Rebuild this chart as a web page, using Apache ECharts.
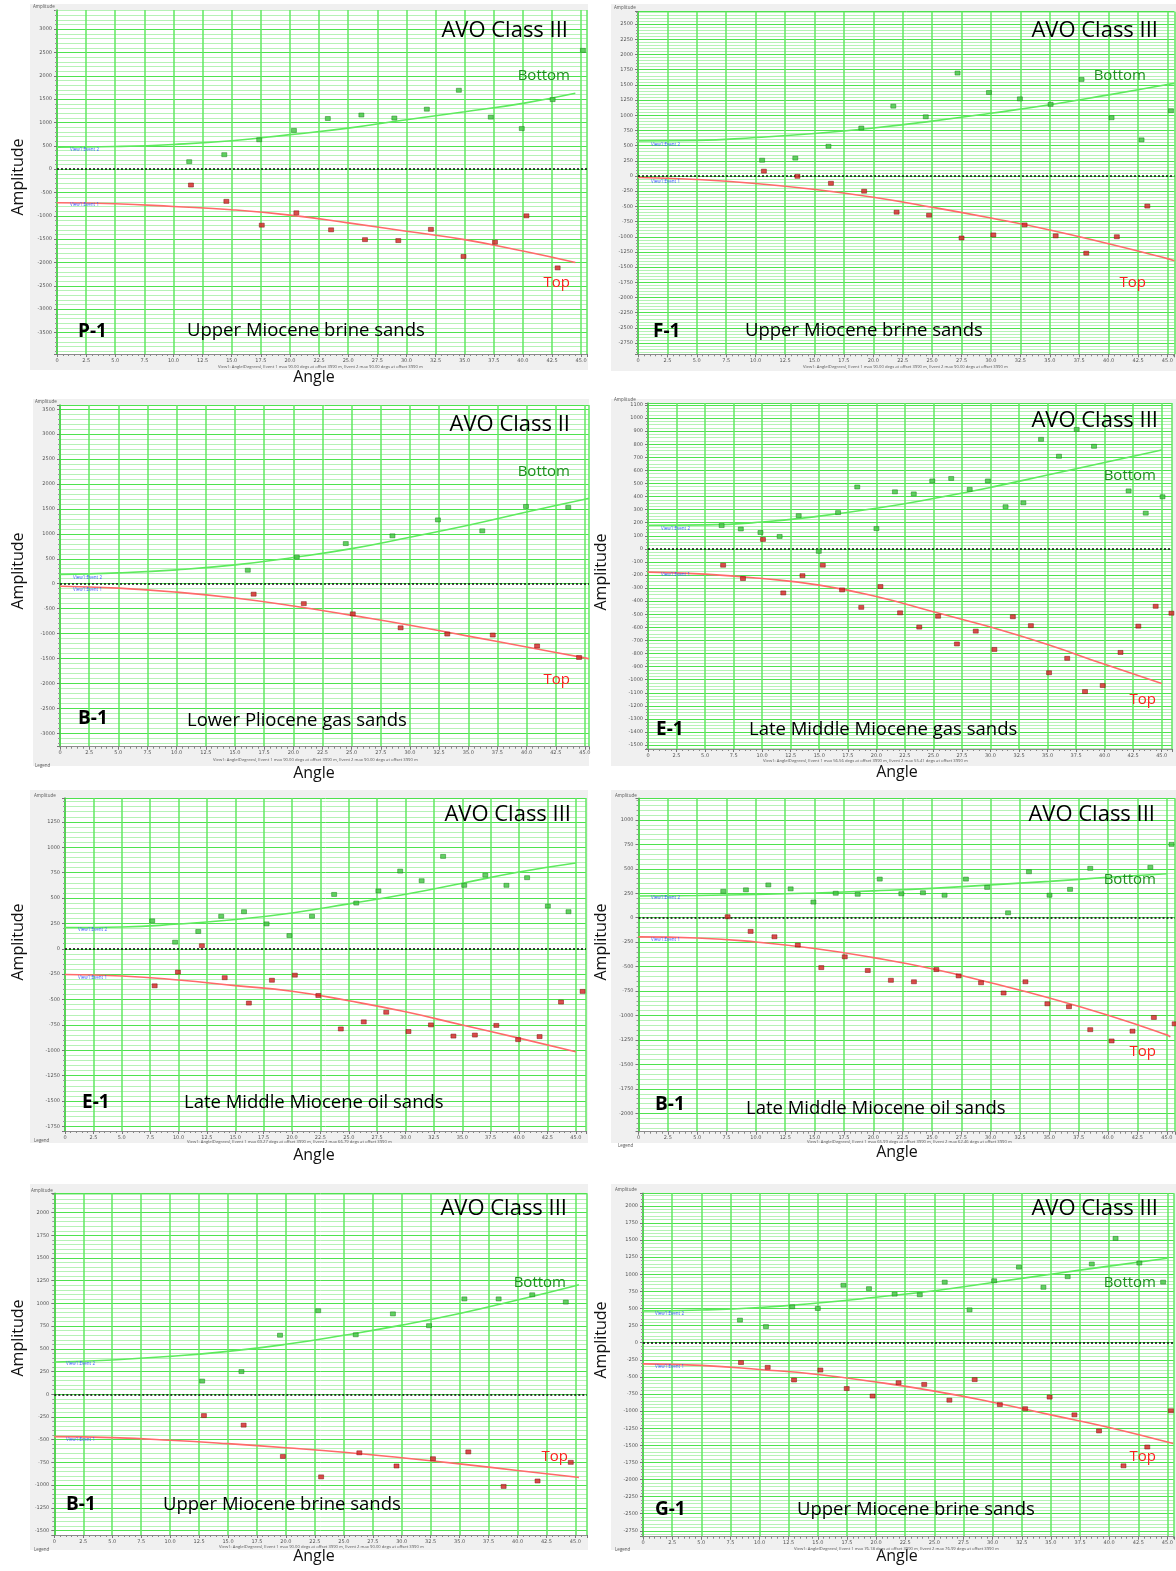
<!DOCTYPE html>
<html><head><meta charset="utf-8">
<script src="https://cdn.jsdelivr.net/npm/echarts@6/dist/echarts.min.js"></script>
<style>html,body{margin:0;padding:0;background:#fff}#c{width:1176px;height:1571px}</style>
</head><body><div id="c"></div>
<script>
// ---------- DATA (angle in degrees, amplitude) ----------
// P-1 Upper Miocene brine sands
const p1Bottom = [[11.35,160],[14.36,310],[17.36,630],[20.34,830],[23.25,1085],[26.13,1160],[28.96,1095],[31.75,1285],[34.5,1690],[37.24,1115],[39.9,870],[42.55,1490],[45.15,2545]];
const p1Top = [[11.5,-340],[14.54,-690],[17.58,-1200],[20.55,-935],[23.53,-1300],[26.44,-1510],[29.3,-1530],[32.1,-1290],[34.9,-1870],[37.6,-1565],[40.3,-1000],[42.98,-2115]];
const p1BottomFit = [[0,470],[5,485],[10,530],[15,610],[20,740],[25,880],[30,1060],[35,1230],[40,1410],[44.5,1625]];
const p1TopFit = [[0,-720],[5,-740],[10,-800],[15,-870],[20,-985],[25,-1150],[30,-1330],[35,-1510],[40,-1755],[44.5,-2000]];
// F-1 Upper Miocene brine sands
const p2Bottom = [[10.55,260],[13.37,295],[16.19,490],[18.98,790],[21.7,1150],[24.46,975],[27.16,1695],[29.83,1375],[32.46,1270],[35.07,1180],[37.7,1590],[40.25,960],[42.8,595],[45.3,1075]];
const p2Top = [[10.7,80],[13.55,-5],[16.4,-120],[19.22,-250],[21.98,-595],[24.74,-645],[27.5,-1020],[30.2,-970],[32.86,-805],[35.5,-985],[38.1,-1270],[40.7,-1000],[43.29,-495]];
const p2BottomFit = [[0,578],[5,586],[10,635],[15,700],[20,790],[25,904],[30,1034],[35,1173],[40,1336],[45,1507],[45.6,1525]];
const p2TopFit = [[0,-24],[5,-57],[10,-122],[15,-220],[20,-350],[25,-513],[30,-692],[35,-888],[40,-1116],[45,-1360],[45.6,-1395]];
// B-1 Lower Pliocene gas sands
const p3Bottom = [[16.1,270],[20.3,535],[24.5,805],[28.5,960],[32.4,1280],[36.2,1060],[39.95,1550],[43.57,1530]];
const p3Top = [[16.6,-210],[20.9,-400],[25.1,-605],[29.2,-885],[33.2,-1010],[37.1,-1030],[40.9,-1250],[44.5,-1480]];
const p3BottomFit = [[0,188],[5,218],[10,278],[15,377],[20,526],[25,704],[30,933],[35,1171],[40,1438],[45,1696],[45.35,1715]];
const p3TopFit = [[0,-50],[5,-89],[10,-169],[15,-288],[20,-446],[25,-635],[30,-833],[35,-1052],[40,-1270],[45,-1488],[45.35,-1505]];
// E-1 Late Middle Miocene gas sands
const p4Bottom = [[6.45,178],[8.13,152],[9.85,125],[11.53,95],[13.2,254],[14.96,-19],[16.65,277],[18.33,473],[20.01,155],[21.63,436],[23.28,420],[24.9,519],[26.56,538],[28.18,455],[29.77,519],[31.32,322],[32.88,352],[34.43,837],[36.0,708],[37.55,913],[39.07,784],[42.1,443],[43.6,273],[45.07,398]];
const p4Top = [[6.58,-125],[8.32,-227],[10.07,72],[11.85,-337],[13.53,-205],[15.31,-125],[17.0,-314],[18.68,-447],[20.36,-288],[22.08,-489],[23.76,-598],[25.41,-515],[27.06,-727],[28.71,-629],[30.34,-769],[31.96,-519],[33.54,-587],[35.13,-947],[36.72,-837],[38.28,-1091],[39.83,-1045],[41.39,-792],[42.95,-591],[44.47,-439],[45.85,-492]];
const p4BottomFit = [[0,180],[5,183],[10,205],[15,250],[20,310],[25,385],[30,470],[35,565],[40,660],[45,755]];
const p4TopFit = [[0,-178],[5,-193],[10,-227],[15,-277],[20,-364],[25,-481],[30,-598],[35,-731],[40,-883],[45,-1030]];
// E-1 Late Middle Miocene oil sands
const p5Bottom = [[7.68,275],[9.7,65],[11.74,170],[13.76,320],[15.77,365],[17.76,245],[19.77,130],[21.76,320],[23.71,535],[25.66,450],[27.61,570],[29.53,765],[31.42,670],[33.31,910],[35.17,625],[37.03,725],[38.89,625],[40.71,700],[42.54,420],[44.36,365]];
const p5Top = [[7.9,-365],[9.95,-230],[12.06,30],[14.07,-285],[16.2,-535],[18.23,-310],[20.25,-260],[22.32,-460],[24.3,-790],[26.32,-720],[28.3,-625],[30.26,-815],[32.24,-750],[34.22,-860],[36.11,-850],[38.0,-755],[39.92,-895],[41.81,-865],[43.7,-525],[45.6,-420]];
const p5BottomFit = [[0,209],[5,214],[10,244],[15,288],[20,353],[25,442],[30,537],[35,646],[40,756],[45,845]];
const p5TopFit = [[0,-254],[5,-268],[10,-308],[15,-363],[20,-418],[25,-512],[30,-621],[35,-751],[40,-880],[45,-1014]];
// B-1 Late Middle Miocene oil sands
const p6Bottom = [[7.22,270],[9.15,285],[11.06,335],[12.96,295],[14.9,160],[16.8,250],[18.67,240],[20.55,395],[22.39,245],[24.23,255],[26.07,230],[27.89,395],[29.7,310],[31.48,50],[33.26,470],[35.01,230],[36.76,290],[38.48,505],[43.6,515],[45.4,750]];
const p6Top = [[7.59,10],[9.55,-140],[11.58,-195],[13.57,-280],[15.57,-510],[17.57,-400],[19.53,-540],[21.5,-640],[23.46,-655],[25.37,-530],[27.27,-595],[29.18,-665],[31.1,-770],[32.96,-655],[34.83,-880],[36.67,-910],[38.48,-1145],[40.3,-1260],[42.08,-1160],[43.9,-1020],[45.67,-1085]];
const p6BottomFit = [[0,222],[5,227],[10,238],[15,253],[20,274],[25,300],[30,336],[35,372],[40,413],[45,449]];
const p6TopFit = [[0,-196],[5,-207],[10,-248],[15,-315],[20,-408],[25,-522],[30,-666],[35,-821],[40,-997],[45,-1198],[45.3,-1220]];
// B-1 Upper Miocene brine sands
const p7Bottom = [[12.77,145],[16.16,250],[19.49,650],[22.79,920],[26.03,655],[29.24,885],[32.36,755],[35.41,1050],[38.37,1050],[41.27,1095],[44.17,1015]];
const p7Top = [[12.92,-235],[16.35,-340],[19.74,-685],[23.04,-910],[26.34,-645],[29.55,-790],[32.7,-710],[35.75,-635],[38.8,-1015],[41.73,-955],[44.6,-750]];
const p7BottomFit = [[0,356],[5,378],[10,417],[15,472],[20,550],[25,650],[30,761],[35,889],[40,1039],[45,1194],[45.3,1205]];
const p7TopFit = [[0,-467],[5,-478],[10,-506],[15,-544],[20,-589],[25,-639],[30,-700],[35,-767],[40,-839],[45,-911],[45.3,-915]];
// G-1 Upper Miocene brine sands
const p8Bottom = [[8.32,330],[10.55,235],[12.8,525],[15.0,500],[17.2,840],[19.39,790],[21.59,710],[23.75,700],[25.89,885],[28.02,480],[30.13,905],[32.26,1105],[34.36,810],[36.44,965],[38.51,1150],[40.55,1525],[42.59,1165],[44.63,885]];
const p8Top = [[8.41,-290],[10.7,-360],[12.96,-545],[15.22,-400],[17.48,-670],[19.7,-780],[21.93,-585],[24.13,-610],[26.29,-840],[28.46,-540],[30.62,-905],[32.79,-965],[34.89,-795],[37.02,-1055],[39.13,-1290],[41.23,-1800],[43.27,-1525],[45.3,-995]];
const p8BottomFit = [[0,465],[5,478],[10,515],[15,580],[20,665],[25,760],[30,880],[35,1000],[40,1120],[45,1235]];
const p8TopFit = [[0,-310],[5,-332],[10,-391],[15,-465],[20,-575],[25,-708],[30,-870],[35,-1055],[40,-1239],[45,-1453],[45.5,-1475]];

const wells = ['P-1','F-1','B-1','E-1','E-1','B-1','B-1','G-1'];
const formations = ['Upper Miocene brine sands','Upper Miocene brine sands','Lower Pliocene gas sands','Late Middle Miocene gas sands','Late Middle Miocene oil sands','Late Middle Miocene oil sands','Upper Miocene brine sands','Upper Miocene brine sands'];
const classes = ['AVO Class III','AVO Class III','AVO Class II','AVO Class III','AVO Class III','AVO Class III','AVO Class III','AVO Class III'];
const maxAngles = [['90.00','90.00'],['90.00','90.00'],['90.00','90.00'],['56.56','55.41'],['69.27','66.79'],['65.99','62.46'],['90.00','90.00'],['76.18','76.99']];
const yRanges = [[-3960,3410,500],[-2935,2705,250],[-3270,3585,500],[-1530,1115,100],[-1795,1485,250],[-2188,1221,250],[-1550,2213,250],[-2836,2184,250]];
const xMaxes = [45.5,45.6,45.35,45.9,45.9,45.7,46.0,45.55];
const bottoms = [p1Bottom,p2Bottom,p3Bottom,p4Bottom,p5Bottom,p6Bottom,p7Bottom,p8Bottom];
const tops = [p1Top,p2Top,p3Top,p4Top,p5Top,p6Top,p7Top,p8Top];
const bottomFits = [p1BottomFit,p2BottomFit,p3BottomFit,p4BottomFit,p5BottomFit,p6BottomFit,p7BottomFit,p8BottomFit];
const topFits = [p1TopFit,p2TopFit,p3TopFit,p4TopFit,p5TopFit,p6TopFit,p7TopFit,p8TopFit];

// ---------- LAYOUT (pixels) ----------
const layout = [
 {g:[57,10,530,344], box:[30,4,558,366], cls:[568,31], bot:[570,76], top:[570,283], well:[78,332], form:[187,331], amp:[18,177], ang:[314,377], cap:[218,367], ev2:[70,150], ev1:[70,205], tiny:[33,7], minor:5},
 {g:[638,11.7,537,342.6], box:[611,4,565,367], cls:[1158,31], bot:[1146,76], top:[1146,283], well:[653,332], form:[745,331], amp:null, ang:null, cap:[803,367], ev2:[651,145], ev1:[651,182], tiny:[614,8], minor:5},
 {g:[60,405,529,341.7], box:[33,399,556,367], cls:[570,425], bot:[570,472], top:[570,680], well:[78,719], form:[187,721], amp:[18,571], ang:[314,773], cap:[213,760], ev2:[73,578], ev1:[73,590], tiny:[35,402], minor:5, legend:[35,766]},
 {g:[648,403,524,346], box:[611,399,565,367], cls:[1158,421], bot:[1156,476], top:[1156,700], well:[656,730], form:[749,730], amp:[601,572], ang:[897,772], cap:[763,761], ev2:[661,529], ev1:[661,575], tiny:[614,400], minor:4},
 {g:[65,798,521,333], box:[30,790,558,353], cls:[571,815], bot:null, top:null, well:[82,1103], form:[184,1103], amp:[18,942], ang:[314,1155], cap:[187,1142], ev2:[78,930], ev1:[78,978], tiny:[34,796], minor:5, legend:[34,1141]},
 {g:[638.5,798.3,536.5,333.4], box:[611,790,565,353], cls:[1155,815], bot:[1156,880], top:[1156,1052], well:[655,1105], form:[746,1109], amp:[601,942], ang:[897,1152], cap:[807,1142], ev2:[651,898], ev1:[651,940], tiny:[615,796], minor:5, legend:[618,1146]},
 {g:[54.3,1193.3,532.7,341.7], box:[30,1184,558,366], cls:[567,1209], bot:[566,1283], top:[568,1457], well:[66,1505], form:[163,1505], amp:[18,1338], ang:[314,1556], cap:[219,1547], ev2:[66,1364], ev1:[66,1440], tiny:[31,1191], minor:5, legend:[34,1550]},
 {g:[643,1193.3,532,343.4], box:[611,1184,565,366], cls:[1158,1209], bot:[1156,1283], top:[1156,1457], well:[655,1510], form:[797,1510], amp:[601,1340], ang:[897,1556], cap:[794,1549], ev2:[655,1314], ev1:[655,1367], tiny:[615,1190], minor:5, legend:[615,1550]}
];

const FONT = '"Open Sans", "Liberation Sans", sans-serif';
const grids = [], xAxes = [], yAxes = [], series = [], graphics = [];

function txt(x, y, text, opt) {
  opt = opt || {};
  graphics.push({
    type: 'text', x: x, y: y, rotation: opt.rot || 0, z: 100,
    style: {
      text: text, x: 0, y: 0,
      fill: opt.color || '#000',
      font: (opt.weight || 'normal') + ' ' + (opt.size || 12) + 'px ' + FONT,
      textAlign: opt.align || 'left', textVerticalAlign: 'middle'
    }
  });
}

for (let i = 0; i < 8; i++) {
  const L = layout[i];
  const [yMin, yMax, yStep] = yRanges[i];
  graphics.push({type: 'rect', z: -100, shape: {x: L.box[0], y: L.box[1], width: L.box[2], height: L.box[3]}, style: {fill: '#f0f0f0'}});
  grids.push({left: L.g[0], top: L.g[1], width: L.g[2], height: L.g[3], show: true, backgroundColor: '#ffffff', borderWidth: 0});
  xAxes.push({
    type: 'value', gridIndex: i, min: 0, max: xMaxes[i], interval: 2.5,
    axisLine: {show: true, onZero: false, lineStyle: {color: '#8a8a8a', width: 1}},
    axisTick: {show: true, length: 3, lineStyle: {color: '#777'}},
    minorTick: {show: true, splitNumber: 5, length: 2, lineStyle: {color: '#888'}},
    axisLabel: {fontSize: 5, color: '#555', margin: 4, showMaxLabel: false, fontFamily: 'DejaVu Sans',
      formatter: v => v === 0 ? '0' : v.toFixed(1)},
    splitLine: {show: true, lineStyle: {color: '#62e862', width: 1.5}}
  });
  yAxes.push({
    type: 'value', gridIndex: i, min: yMin, max: yMax, minInterval: yStep, maxInterval: yStep, splitNumber: 12,
    axisLine: {show: true, onZero: false, lineStyle: {color: '#44cc44', width: 1.5}},
    axisTick: {show: true, length: 3, lineStyle: {color: '#777'}},
    minorTick: {show: true, splitNumber: L.minor, length: 2, lineStyle: {color: '#999'}},
    axisLabel: {fontSize: 5, color: '#555', margin: 5, showMinLabel: false, showMaxLabel: false, fontFamily: 'DejaVu Sans',
      formatter: v => String(Math.round(v))},
    splitLine: {show: true, lineStyle: {color: '#4fe24f', width: 1}},
    minorSplitLine: {show: true, lineStyle: {color: '#b6f2b6', width: 1}}
  });
  series.push({
    type: 'line', xAxisIndex: i, yAxisIndex: i, data: bottomFits[i], smooth: true, symbol: 'none', z: 3,
    lineStyle: {color: '#5eea5e', width: 1.6},
    markLine: {silent: true, symbol: ['none', 'none'], label: {show: false}, animation: false,
      lineStyle: {type: [2, 2], color: '#111', width: 1.6}, data: [{yAxis: 0}]}
  });
  series.push({type: 'line', xAxisIndex: i, yAxisIndex: i, data: topFits[i], smooth: true, symbol: 'none', z: 3,
    lineStyle: {color: '#ff6a6a', width: 1.6}});
  series.push({type: 'scatter', xAxisIndex: i, yAxisIndex: i, data: bottoms[i], symbol: 'rect', symbolSize: [5, 4], z: 5,
    itemStyle: {color: '#3cc43c', borderColor: '#167a16', borderWidth: 0.6}});
  series.push({type: 'scatter', xAxisIndex: i, yAxisIndex: i, data: tops[i], symbol: 'rect', symbolSize: [5, 4], z: 5,
    itemStyle: {color: '#d42020', borderColor: '#7a0d0d', borderWidth: 0.6}});

  // annotations
  txt(L.cls[0], L.cls[1], classes[i], {size: 22, align: 'right'});
  if (L.bot) txt(L.bot[0], L.bot[1], 'Bottom', {size: 15, align: 'right', color: '#1e8f1e'});
  if (L.top) txt(L.top[0], L.top[1], 'Top', {size: 15, align: 'right', color: '#ff1f1f'});
  txt(L.well[0], L.well[1], wells[i], {size: 19, weight: 'bold'});
  txt(L.form[0], L.form[1], formations[i], {size: 18.5});
  if (L.amp) txt(L.amp[0], L.amp[1], 'Amplitude', {size: 16, align: 'center', rot: Math.PI / 2, color: '#111'});
  if (L.ang) txt(L.ang[0], L.ang[1], 'Angle', {size: 16, align: 'center', color: '#111'});
  txt(L.cap[0], L.cap[1], 'View1: Angle(Degrees), Event 1 max ' + maxAngles[i][0] + ' degs at offset 3990 m, Event 2 max ' + maxAngles[i][1] + ' degs at offset 3990 m', {size: 4.2, color: '#555'});
  txt(L.ev2[0], L.ev2[1], 'View1:Event 2', {size: 4.5, color: '#3b5bff'});
  txt(L.ev1[0], L.ev1[1], 'View1:Event 1', {size: 4.5, color: '#3b5bff'});
  txt(L.tiny[0], L.tiny[1], 'Amplitude', {size: 4.5, color: '#555'});
  if (L.legend) txt(L.legend[0], L.legend[1], 'Legend', {size: 4.5, color: '#555'});
}

const chart = echarts.init(document.getElementById('c'), null, {renderer: 'canvas', width: 1176, height: 1571});
chart.setOption({
  animation: false,
  backgroundColor: '#ffffff',
  grid: grids, xAxis: xAxes, yAxis: yAxes, series: series, graphic: graphics
});
</script>
</body></html>
